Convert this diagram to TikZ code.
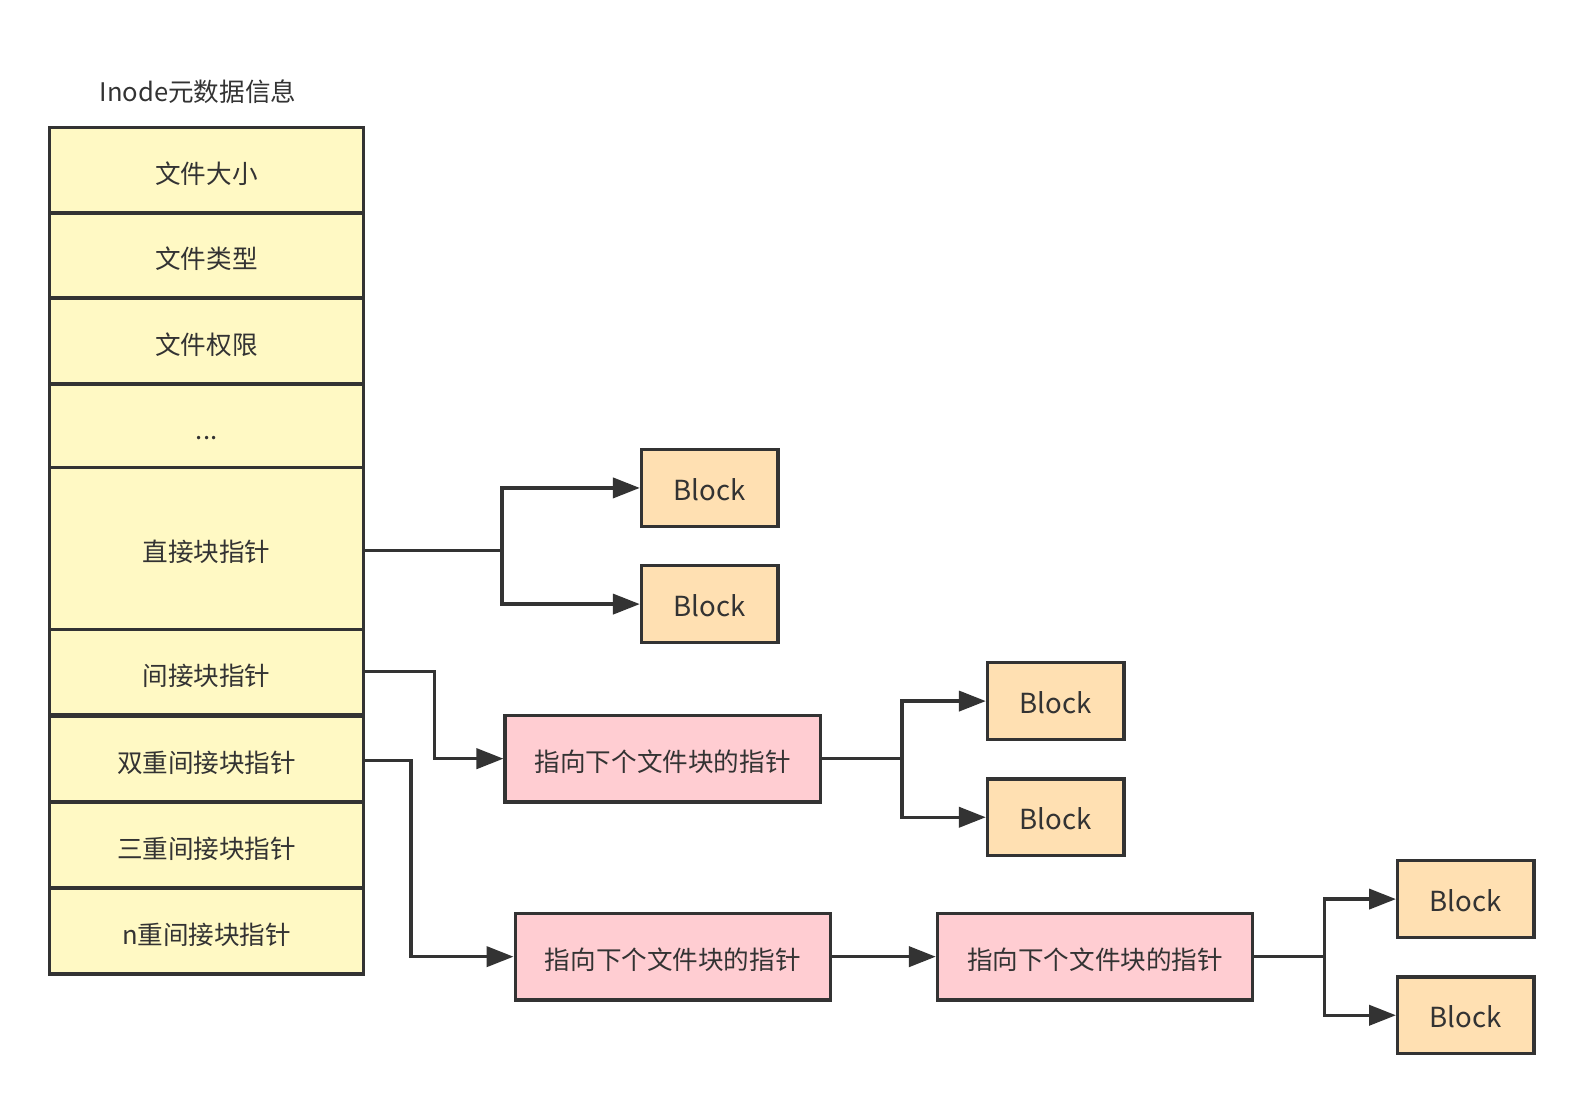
\documentclass[tikz,border=0pt]{standalone}
\usepackage{fontspec}
\newfontfamily\cjk{Noto Sans CJK SC}
\usetikzlibrary{arrows.meta}
\definecolor{ink}{HTML}{333333}
\definecolor{rowfill}{HTML}{FFF9C4}
\definecolor{pinkfill}{HTML}{FFCDD2}
\definecolor{blockfill}{HTML}{FFE0B2}
\tikzset{
  box/.style={draw=ink, line width=2.5pt, text=ink, inner sep=0pt, text height=2.05em, text depth=0.08em, font=\cjk\fontsize{19pt}{22pt}\selectfont},
  rowbox/.style={box, fill=rowfill, minimum width=233.25pt},
  ptrbox/.style={box, fill=pinkfill, minimum width=234pt, minimum height=64.5pt},
  blockbox/.style={box, fill=blockfill, minimum width=101.25pt, minimum height=57pt, text height=1.9em, font=\cjk\fontsize{20.5pt}{24pt}\selectfont},
  conn/.style={draw=ink, line width=2.5pt},
  arr/.style={conn, -{Triangle[length=20pt,width=15pt]}},
  title/.style={text=ink, font=\cjk\fontsize{19pt}{22pt}\selectfont}
}
\begin{document}
\begin{tikzpicture}[x=0.75pt,y=-0.75pt]
\useasboundingbox (0,0) rectangle (1568,1092);
\node[title] (t) at (196,91) {Inode元数据信息};
% inode rows
\node[rowbox, minimum height=63.75pt] (r1) at (204.5,168.5) {文件大小};
\node[rowbox, minimum height=63pt] (r2) at (204.5,253) {文件类型};
\node[rowbox, minimum height=63.75pt] (r3) at (204.5,337.5) {文件权限};
\node[rowbox, minimum height=62.25pt] (r4) at (204.5,421.5) {...};
\node[rowbox, minimum height=120pt] (r5) at (204.5,543) {直接块指针};
\node[rowbox, minimum height=63pt] (r6) at (204.5,665) {间接块指针};
\node[rowbox, minimum height=63.75pt] (r7) at (204.5,751.5) {双重间接块指针};
\node[rowbox, minimum height=63.75pt] (r8) at (204.5,836.5) {三重间接块指针};
\node[rowbox, minimum height=63.75pt] (r9) at (204.5,921.5) {n重间接块指针};
% pointer blocks
\node[ptrbox] (p1) at (656,751) {指向下个文件块的指针};
\node[ptrbox] (p2) at (666,947) {指向下个文件块的指针};
\node[ptrbox] (p3) at (1084,947) {指向下个文件块的指针};
% data blocks
\node[blockbox] (b1) at (702.5,483) {Block};
\node[blockbox] (b2) at (702.5,598) {Block};
\node[blockbox] (b3) at (1045,694) {Block};
\node[blockbox] (b4) at (1045,809) {Block};
\node[blockbox] (b5) at (1451,890) {Block};
\node[blockbox] (b6) at (1451,1005) {Block};
% junctions
\coordinate (j1) at (497,545);
\coordinate (j2) at (893,751);
\coordinate (j3) at (1311,947);
% connectors
\draw[conn] (r5.east |- j1) -- (j1);
\draw[arr] (j1) |- (b1.west);
\draw[arr] (j1) |- (b2.west);
\draw[arr] (r6.east) -| (430,708) |- (p1.west);
\draw[conn] (p1.east) -- (j2);
\draw[arr] (j2) |- (b3.west);
\draw[arr] (j2) |- (b4.west);
\draw[arr] (r7.east) ++(0,1.5) -| (407,850) |- (p2.west);
\draw[arr] (p2.east) -- (p3.west);
\draw[conn] (p3.east) -- (j3);
\draw[arr] (j3) |- (b5.west);
\draw[arr] (j3) |- (b6.west);
\end{tikzpicture}
\end{document}
